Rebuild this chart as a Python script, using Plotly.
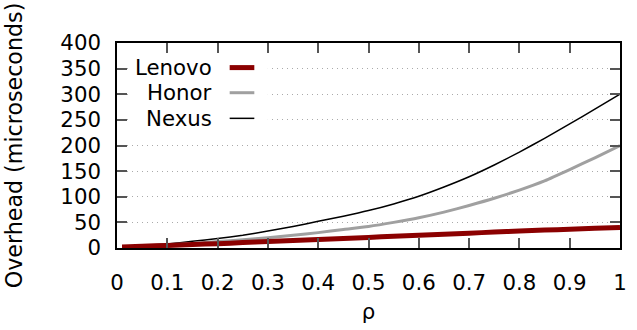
import plotly.graph_objects as go

# ---- data ----
rho = [0.01, 0.05, 0.10, 0.15, 0.20, 0.25, 0.30, 0.35, 0.40, 0.45, 0.50,
       0.55, 0.60, 0.65, 0.70, 0.75, 0.80, 0.85, 0.90, 0.95, 1.00]
nexus = [2, 4.5, 8, 13, 18.5, 25, 33, 42, 52, 62, 73,
         86, 101, 119, 139, 162, 187, 214, 242, 271, 300]
honor = [2, 3.5, 6, 9, 12.5, 16, 20, 25, 30, 36, 42,
         50, 59, 70, 83, 97, 113, 131, 153, 176, 200]
lenovo = [2, 3.5, 5, 6.8, 8.5, 10.5, 12.5, 14.5, 16.5, 18.5, 20.5,
          23, 25, 27, 29, 31, 33, 35, 36.5, 38.3, 40]

series_names = ["Lenovo", "Honor", "Nexus"]
series_values = [lenovo, honor, nexus]
series_colors = ["#8b0000", "#a0a0a0", "#000000"]
series_widths = [5, 3, 1.5]
legend_y = [352, 303, 253]

x_ticks = [0, 0.1, 0.2, 0.3, 0.4, 0.5, 0.6, 0.7, 0.8, 0.9, 1]
x_tick_text = ["0", "0.1", "0.2", "0.3", "0.4", "0.5", "0.6", "0.7", "0.8", "0.9", "1"]
y_ticks = [0, 50, 100, 150, 200, 250, 300, 350, 400]

FONT = "DejaVu Sans"
FS = 21.3

fig = go.Figure()
# draw order: Nexus first, Lenovo on top
for name, vals, col, w in reversed(list(zip(series_names, series_values, series_colors, series_widths))):
    fig.add_trace(go.Scatter(x=rho, y=vals, mode="lines", name=name,
                             line=dict(color=col, width=w, shape="spline", smoothing=0.5),
                             showlegend=False, hoverinfo="skip"))

shapes = [
    # opaque key area
    dict(type="rect", xref="x", yref="y", x0=0.025, x1=0.30, y0=226, y1=378,
         fillcolor="white", line=dict(width=0), layer="above"),
]
annotations = []
for name, col, w, ly in zip(series_names, series_colors, series_widths, legend_y):
    shapes.append(dict(type="line", xref="x", yref="y", x0=0.224, x1=0.273, y0=ly, y1=ly,
                       line=dict(color=col, width=w), layer="above"))
    annotations.append(dict(x=0.193, y=ly, xref="x", yref="y", text=name, showarrow=False,
                            xanchor="right", yanchor="middle",
                            font=dict(family=FONT, size=FS, color="black")))

fig.update_layout(
    width=637, height=330,
    margin=dict(l=117, r=10, t=43, b=76),
    paper_bgcolor="white", plot_bgcolor="white",
    font=dict(family=FONT, size=FS, color="black"),
    shapes=shapes, annotations=annotations,
    showlegend=False,
)
fig.update_xaxes(range=[0, 1], tickvals=x_ticks, ticktext=x_tick_text,
                 ticks="inside", ticklen=10, tickwidth=1.5, tickcolor="#555",
                 showline=True, linecolor="black", linewidth=1.5, mirror="ticks",
                 showgrid=False, zeroline=False, ticklabelstandoff=15,
                 title=dict(text="ρ", standoff=10, font=dict(family=FONT, size=FS)))
fig.update_yaxes(range=[0, 400], tickvals=y_ticks,
                 ticks="inside", ticklen=10, tickwidth=1.5, tickcolor="#555",
                 showline=True, linecolor="black", linewidth=1.5, mirror="ticks",
                 showgrid=True, gridcolor="#aaa", griddash="1px,4px", gridwidth=1,
                 zeroline=False, ticklabelstandoff=10,
                 title=dict(text="Overhead (microseconds)", standoff=32,
                            font=dict(family=FONT, size=22.2)))

fig.write_html("out.html")
